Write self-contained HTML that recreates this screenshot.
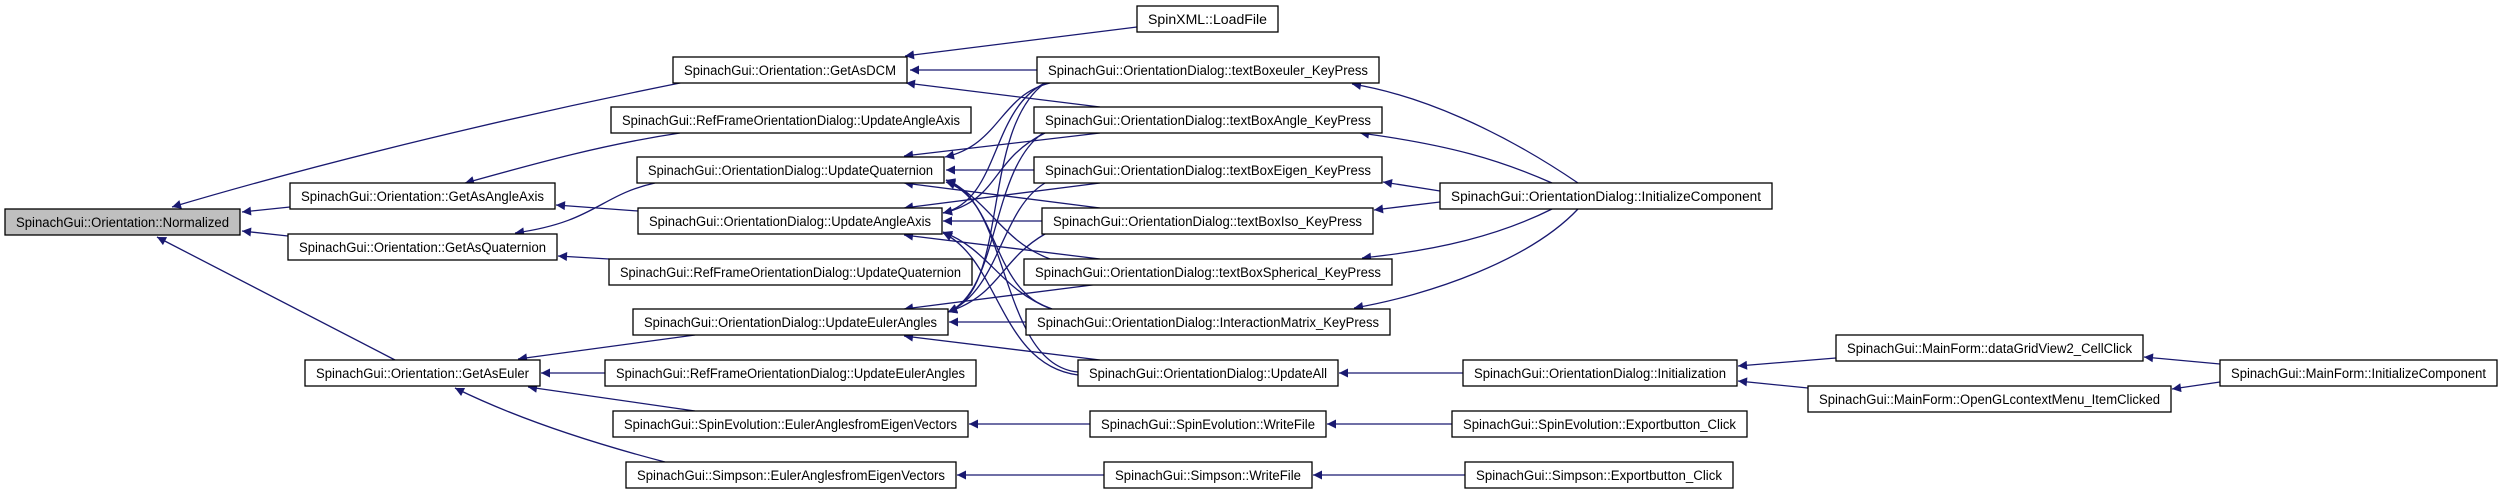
<!DOCTYPE html>
<html><head><meta charset="utf-8"><style>
html,body{margin:0;padding:0;background:#fff;}
svg{display:block;}
text{font-family:"Liberation Sans",sans-serif;font-size:13.5px;fill:#000;}
.b{fill:#fff;stroke:#000;stroke-width:1.3;}
.e{fill:none;stroke:#191970;stroke-width:1.3;marker-end:url(#a);}
</style></head><body>
<svg width="2499" height="493" viewBox="0 0 2499 493" xmlns="http://www.w3.org/2000/svg">
<defs><marker id="a" viewBox="0 0 10 10" refX="10" refY="5" markerWidth="12" markerHeight="9" markerUnits="userSpaceOnUse" orient="auto"><path d="M0,0 L10,5 L0,10 z" fill="#191970"/></marker></defs>
<g>
<path class="e" d="M685,82 C520,115 330,160 172,207"/>
<path class="e" d="M290,207 L242,212"/>
<path class="e" d="M288,236 L242,231"/>
<path class="e" d="M395,360 L157,237"/>
<path class="e" d="M1137,27 L905,56"/>
<path class="e" d="M1037,70 L910,70"/>
<path class="e" d="M1100,107 L906,83"/>
<path class="e" d="M680,133 C600,145 530,165 465,183"/>
<path class="e" d="M638,211 L556,205"/>
<path class="e" d="M655,183 C600,195 595,222 515,233"/>
<path class="e" d="M609,259 L558,256"/>
<path class="e" d="M695,335 L518,359"/>
<path class="e" d="M605,373 L541,373"/>
<path class="e" d="M695,411 L528,387"/>
<path class="e" d="M665,462 C600,445 520,420 455,388"/>
<path class="e" d="M1050,83 C1000,95 1000,145 945,157"/>
<path class="e" d="M1100,133 L904,156"/>
<path class="e" d="M1034,170 L946,170"/>
<path class="e" d="M1100,208 L904,183"/>
<path class="e" d="M1050,259 C1000,240 990,200 946,180"/>
<path class="e" d="M1052,309 C990,290 1000,200 946,182"/>
<path class="e" d="M1078,372 C1000,365 1010,200 946,180"/>
<path class="e" d="M1045,83 C990,110 1000,200 943,213"/>
<path class="e" d="M1045,133 C990,160 1000,200 943,213"/>
<path class="e" d="M1100,183 L904,208"/>
<path class="e" d="M1042,221 L943,221"/>
<path class="e" d="M1100,259 L904,235"/>
<path class="e" d="M1052,309 C1000,290 990,250 943,232"/>
<path class="e" d="M1078,375 C1000,365 1000,260 943,233"/>
<path class="e" d="M1045,83 C980,130 1010,290 948,312"/>
<path class="e" d="M1043,133 C990,170 1000,290 948,312"/>
<path class="e" d="M1045,183 C1000,210 1000,290 948,312"/>
<path class="e" d="M1045,234 C1000,260 1000,295 948,312"/>
<path class="e" d="M1100,284 L904,309"/>
<path class="e" d="M1026,322 L949,322"/>
<path class="e" d="M1100,360 L904,336"/>
<path class="e" d="M1578,183 C1500,130 1420,95 1352,84"/>
<path class="e" d="M1552,183 C1500,160 1450,145 1360,133"/>
<path class="e" d="M1440,191 L1383,182"/>
<path class="e" d="M1440,202 L1374,210"/>
<path class="e" d="M1552,209 C1500,235 1440,250 1362,258"/>
<path class="e" d="M1578,209 C1530,260 1430,295 1354,308"/>
<path class="e" d="M1463,373 L1339,373"/>
<path class="e" d="M1836,358 L1738,366"/>
<path class="e" d="M1808,388 L1738,381"/>
<path class="e" d="M2220,364 L2144,357"/>
<path class="e" d="M2220,382 L2172,389"/>
<path class="e" d="M1090,424 L969,424"/>
<path class="e" d="M1104,475 L957,475"/>
<path class="e" d="M1452,424 L1327,424"/>
<path class="e" d="M1465,475 L1313,475"/>
</g>
<g>
<rect x="5" y="209" width="235" height="26" fill="#bfbfbf" stroke="#000" stroke-width="1.3"/><text x="16" y="227" textLength="213" lengthAdjust="spacingAndGlyphs">SpinachGui::Orientation::Normalized</text>
<rect class="b" x="290" y="183" width="265" height="26"/><text x="301" y="201" textLength="243" lengthAdjust="spacingAndGlyphs">SpinachGui::Orientation::GetAsAngleAxis</text>
<rect class="b" x="288" y="234" width="269" height="26"/><text x="299" y="252" textLength="247" lengthAdjust="spacingAndGlyphs">SpinachGui::Orientation::GetAsQuaternion</text>
<rect class="b" x="305" y="360" width="235" height="26"/><text x="316" y="378" textLength="213" lengthAdjust="spacingAndGlyphs">SpinachGui::Orientation::GetAsEuler</text>
<rect class="b" x="673" y="57" width="234" height="26"/><text x="684" y="75" textLength="212" lengthAdjust="spacingAndGlyphs">SpinachGui::Orientation::GetAsDCM</text>
<rect class="b" x="611" y="107" width="360" height="26"/><text x="622" y="125" textLength="338" lengthAdjust="spacingAndGlyphs">SpinachGui::RefFrameOrientationDialog::UpdateAngleAxis</text>
<rect class="b" x="637" y="157" width="307" height="26"/><text x="648" y="175" textLength="285" lengthAdjust="spacingAndGlyphs">SpinachGui::OrientationDialog::UpdateQuaternion</text>
<rect class="b" x="638" y="208" width="304" height="26"/><text x="649" y="226" textLength="282" lengthAdjust="spacingAndGlyphs">SpinachGui::OrientationDialog::UpdateAngleAxis</text>
<rect class="b" x="609" y="259" width="363" height="26"/><text x="620" y="277" textLength="341" lengthAdjust="spacingAndGlyphs">SpinachGui::RefFrameOrientationDialog::UpdateQuaternion</text>
<rect class="b" x="633" y="309" width="315" height="26"/><text x="644" y="327" textLength="293" lengthAdjust="spacingAndGlyphs">SpinachGui::OrientationDialog::UpdateEulerAngles</text>
<rect class="b" x="605" y="360" width="371" height="26"/><text x="616" y="378" textLength="349" lengthAdjust="spacingAndGlyphs">SpinachGui::RefFrameOrientationDialog::UpdateEulerAngles</text>
<rect class="b" x="613" y="411" width="355" height="26"/><text x="624" y="429" textLength="333" lengthAdjust="spacingAndGlyphs">SpinachGui::SpinEvolution::EulerAnglesfromEigenVectors</text>
<rect class="b" x="626" y="462" width="330" height="26"/><text x="637" y="480" textLength="308" lengthAdjust="spacingAndGlyphs">SpinachGui::Simpson::EulerAnglesfromEigenVectors</text>
<rect class="b" x="1137" y="6" width="141" height="26"/><text x="1148" y="24" textLength="119" lengthAdjust="spacingAndGlyphs">SpinXML::LoadFile</text>
<rect class="b" x="1037" y="57" width="342" height="26"/><text x="1048" y="75" textLength="320" lengthAdjust="spacingAndGlyphs">SpinachGui::OrientationDialog::textBoxeuler_KeyPress</text>
<rect class="b" x="1034" y="107" width="348" height="26"/><text x="1045" y="125" textLength="326" lengthAdjust="spacingAndGlyphs">SpinachGui::OrientationDialog::textBoxAngle_KeyPress</text>
<rect class="b" x="1034" y="157" width="348" height="26"/><text x="1045" y="175" textLength="326" lengthAdjust="spacingAndGlyphs">SpinachGui::OrientationDialog::textBoxEigen_KeyPress</text>
<rect class="b" x="1042" y="208" width="331" height="26"/><text x="1053" y="226" textLength="309" lengthAdjust="spacingAndGlyphs">SpinachGui::OrientationDialog::textBoxIso_KeyPress</text>
<rect class="b" x="1024" y="259" width="368" height="26"/><text x="1035" y="277" textLength="346" lengthAdjust="spacingAndGlyphs">SpinachGui::OrientationDialog::textBoxSpherical_KeyPress</text>
<rect class="b" x="1026" y="309" width="364" height="26"/><text x="1037" y="327" textLength="342" lengthAdjust="spacingAndGlyphs">SpinachGui::OrientationDialog::InteractionMatrix_KeyPress</text>
<rect class="b" x="1078" y="360" width="260" height="26"/><text x="1089" y="378" textLength="238" lengthAdjust="spacingAndGlyphs">SpinachGui::OrientationDialog::UpdateAll</text>
<rect class="b" x="1090" y="411" width="236" height="26"/><text x="1101" y="429" textLength="214" lengthAdjust="spacingAndGlyphs">SpinachGui::SpinEvolution::WriteFile</text>
<rect class="b" x="1104" y="462" width="208" height="26"/><text x="1115" y="480" textLength="186" lengthAdjust="spacingAndGlyphs">SpinachGui::Simpson::WriteFile</text>
<rect class="b" x="1440" y="183" width="332" height="26"/><text x="1451" y="201" textLength="310" lengthAdjust="spacingAndGlyphs">SpinachGui::OrientationDialog::InitializeComponent</text>
<rect class="b" x="1463" y="360" width="274" height="26"/><text x="1474" y="378" textLength="252" lengthAdjust="spacingAndGlyphs">SpinachGui::OrientationDialog::Initialization</text>
<rect class="b" x="1452" y="411" width="295" height="26"/><text x="1463" y="429" textLength="273" lengthAdjust="spacingAndGlyphs">SpinachGui::SpinEvolution::Exportbutton_Click</text>
<rect class="b" x="1465" y="462" width="268" height="26"/><text x="1476" y="480" textLength="246" lengthAdjust="spacingAndGlyphs">SpinachGui::Simpson::Exportbutton_Click</text>
<rect class="b" x="1836" y="335" width="307" height="26"/><text x="1847" y="353" textLength="285" lengthAdjust="spacingAndGlyphs">SpinachGui::MainForm::dataGridView2_CellClick</text>
<rect class="b" x="1808" y="386" width="363" height="26"/><text x="1819" y="404" textLength="341" lengthAdjust="spacingAndGlyphs">SpinachGui::MainForm::OpenGLcontextMenu_ItemClicked</text>
<rect class="b" x="2220" y="360" width="277" height="26"/><text x="2231" y="378" textLength="255" lengthAdjust="spacingAndGlyphs">SpinachGui::MainForm::InitializeComponent</text>
</g>
</svg>
</body></html>
